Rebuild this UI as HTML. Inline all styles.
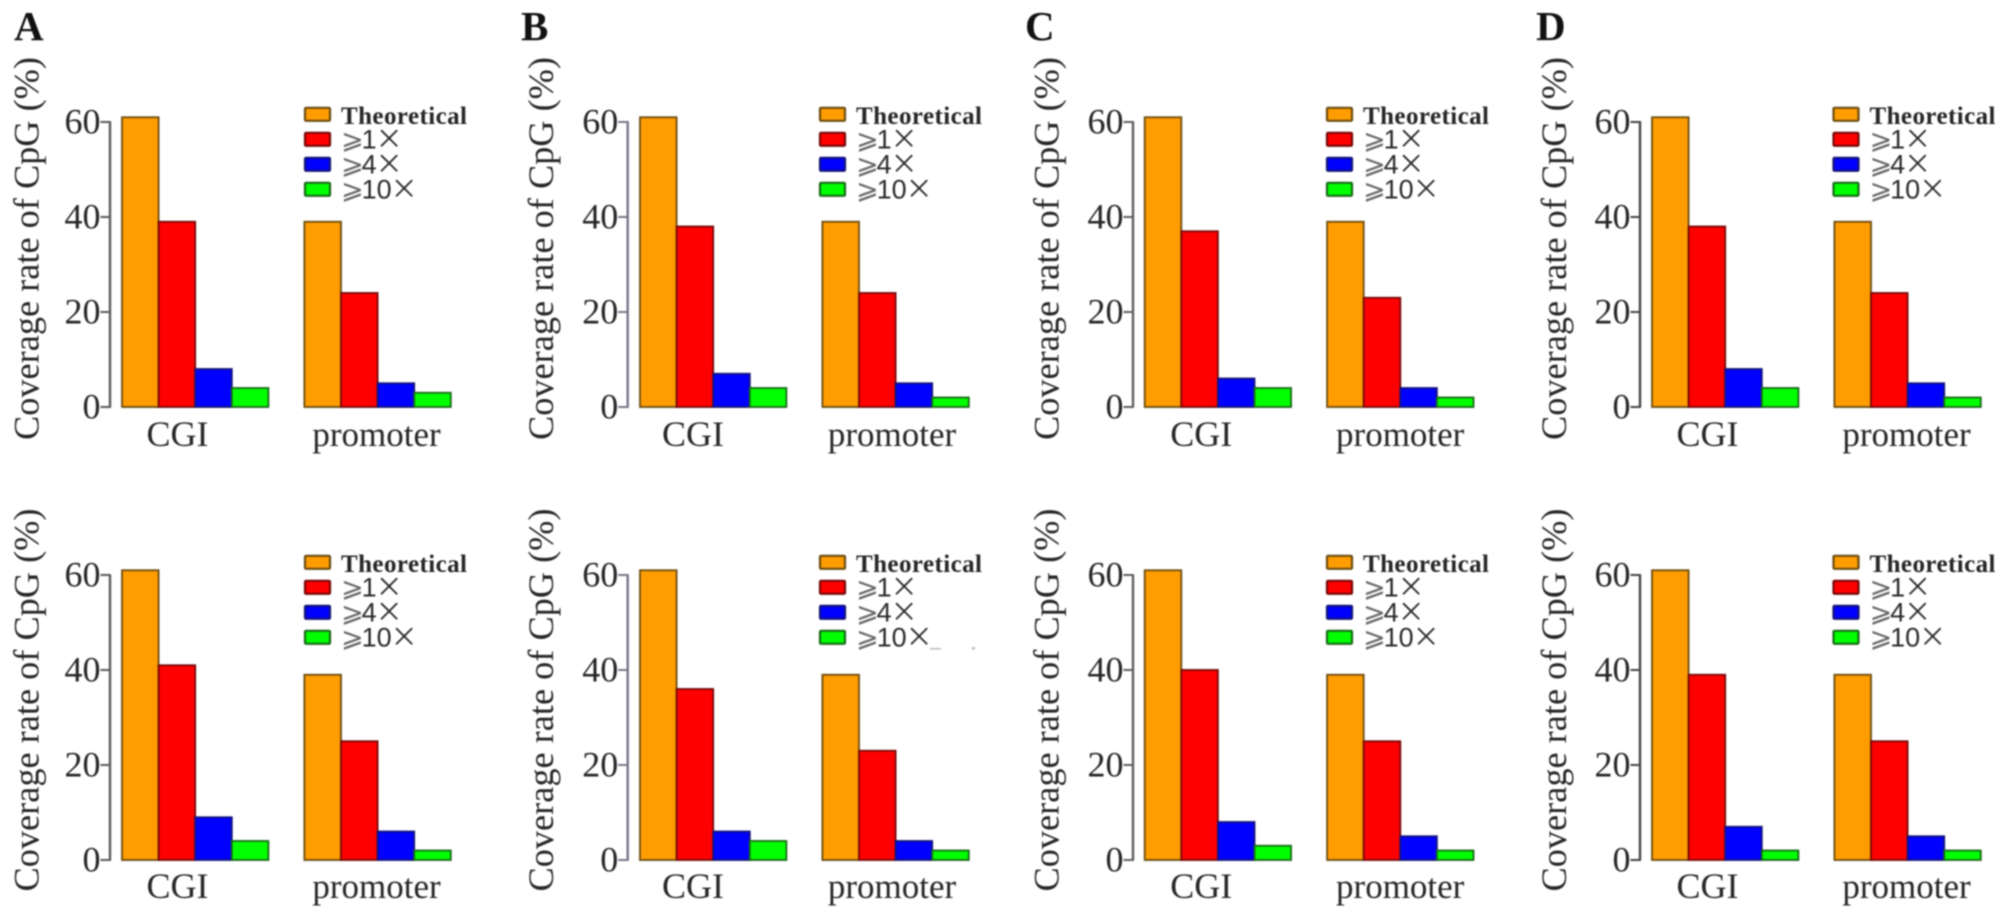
<!DOCTYPE html>
<html lang="en">
<head>
<meta charset="utf-8">
<title>Coverage rate of CpG panels</title>
<style>
html,body{margin:0;padding:0;background:#fff;width:2008px;height:918px;overflow:hidden}
svg{display:block;filter:blur(0.7px)}
text{font-family:"Liberation Serif","DejaVu Serif",serif;fill:#262626}
</style>
</head>
<body>
<svg id="figure" xmlns="http://www.w3.org/2000/svg" width="2008" height="918" viewBox="0 0 2008 918">
  <rect x="0" y="0" width="2008" height="918" fill="#fff"/>
  <text x="14" y="40" font-size="41" font-weight="bold" style="fill:#111">A</text>
  <text x="521" y="40" font-size="41" font-weight="bold" style="fill:#111">B</text>
  <text x="1025" y="40" font-size="41" font-weight="bold" style="fill:#111">C</text>
  <text x="1536" y="40" font-size="41" font-weight="bold" style="fill:#111">D</text>
  <rect x="930" y="648" width="11" height="1.5" fill="#bbb"/>
  <rect x="972" y="647" width="3" height="2.5" fill="#bbb"/>
</svg>
<script>
// ---- chart data ----
const categories = ['CGI', 'promoter'];
const seriesNames = ['Theoretical', '1', '4', '10'];
const tickValues = [0, 20, 40, 60];
const yAxisTitle = 'Coverage rate of CpG (%)';

const valuesTopA = [[61, 39, 8, 4], [39, 24, 5, 3]];
const valuesTopB = [[61, 38, 7, 4], [39, 24, 5, 2]];
const valuesTopC = [[61, 37, 6, 4], [39, 23, 4, 2]];
const valuesTopD = [[61, 38, 8, 4], [39, 24, 5, 2]];
const valuesBottomA = [[61, 41, 9, 4], [39, 25, 6, 2]];
const valuesBottomB = [[61, 36, 6, 4], [39, 23, 4, 2]];
const valuesBottomC = [[61, 40, 8, 3], [39, 25, 5, 2]];
const valuesBottomD = [[61, 39, 7, 2], [39, 25, 5, 2]];

// ---- layout (separate from data) ----
const NS = 'http://www.w3.org/2000/svg';
const svg = document.getElementById('figure');
const fills = ['#ff9c00', '#ff0000', '#0000ff', '#00ff00'];
const strokes = ['#6b4c10', '#760808', '#14147a', '#176a17'];
const PX_PER_UNIT = 4.75;
const BAR_W = 36.6;
const GROUP_STEP = 182.4;

const rows = [
  { id: 'top', zeroY: 407, titleY: 248.5, catY: 446, legendY: 114.3 },
  { id: 'bottom', zeroY: 860, titleY: 700, catY: 898, legendY: 562.3 }
];
const columns = [
  { id: 'a', axisX: 110, barX: 122, legendX: 305, titleX: 38.5, catShift: 0, axisColor: '#5a5a5a' },
  { id: 'b', axisX: 627.7, barX: 640, legendX: 820, titleX: 553, catShift: -2.5, axisColor: '#75758a' },
  { id: 'c', axisX: 1133, barX: 1144.7, legendX: 1327, titleX: 1058.5, catShift: 1, axisColor: '#5e5e5e' },
  { id: 'd', axisX: 1640, barX: 1652, legendX: 1833.5, titleX: 1566, catShift: 0, axisColor: '#454545' }
];
const panelValues = [
  [valuesTopA, valuesTopB, valuesTopC, valuesTopD],
  [valuesBottomA, valuesBottomB, valuesBottomC, valuesBottomD]
];

function make(tag, attrs, text) {
  const node = document.createElementNS(NS, tag);
  for (const key in attrs) node.setAttribute(key, attrs[key]);
  if (text !== undefined) node.textContent = text;
  return node;
}
function yScale(row, value) { return row.zeroY - value * PX_PER_UNIT; }
function xScale(col, groupIndex, seriesIndex) { return col.barX + groupIndex * GROUP_STEP + seriesIndex * BAR_W; }

function drawAxis(group, row, col) {
  const line = make('line', { x1: col.axisX, x2: col.axisX, y1: yScale(row, 60), y2: yScale(row, 0), stroke: col.axisColor, 'stroke-width': 2.4 });
  
  
  group.appendChild(line);
  tickValues.forEach(function (tick) {
    const y = yScale(row, tick);
    const mark = make('line', { x1: col.axisX - 9.5, x2: col.axisX + 1, y1: y, y2: y, stroke: col.axisColor, 'stroke-width': 2 });
    
    
    group.appendChild(mark);
    const label = make('text', { x: col.axisX - 9.5, y: y + 11.5, 'text-anchor': 'end', 'font-size': 36 }, String(tick));
    
    
    group.appendChild(label);
  });
  const title = make('text', {
    x: 0, y: 0, 'text-anchor': 'middle', 'font-size': 36.3,
    transform: 'translate(' + col.titleX + ',' + row.titleY + ') rotate(-90)'
  }, yAxisTitle);
  
  
  group.appendChild(title);
}

function drawBars(group, row, col, values) {
  values.forEach(function (groupValues, g) {
    groupValues.forEach(function (value, s) {
      const top = yScale(row, value);
      const bar = make('rect', {
        x: xScale(col, g, s), y: top, width: BAR_W, height: row.zeroY - top,
        fill: fills[s], stroke: strokes[s], 'stroke-width': 1.8
      });
      
      
      group.appendChild(bar);
    });
  });
}

function drawCategories(group, row, col) {
  const centers = [col.barX + 55.5 + col.catShift, col.barX + 254.5 + col.catShift];
  const sizes = [36, 35];
  categories.forEach(function (name, i) {
    const label = make('text', { x: centers[i], y: row.catY, 'text-anchor': 'middle', 'font-size': sizes[i] }, name);
    
    
    group.appendChild(label);
  });
}

function drawLegend(group, row, col) {
  seriesNames.forEach(function (name, i) {
    const cy = row.legendY + i * 25;
    const entry = make('g', {});
    
    
    const swatch = make('rect', { x: col.legendX, y: cy - 6.5, width: 25, height: 13, rx: 1, fill: fills[i], stroke: strokes[i], 'stroke-width': 2.2 });
    
    
    entry.appendChild(swatch);
    const tx = col.legendX + 36;
    if (i === 0) {
      const label = make('text', { x: tx, y: cy + 9.7, 'font-size': 25, 'font-weight': 'bold', textLength: 126, lengthAdjust: 'spacing' }, name);
      
      
      entry.appendChild(label);
    } else {
      const label = make('text', { x: tx, y: cy + 9.2, 'font-size': 27 });
      
      
      const geq = make('tspan', { style: 'font-family:"DejaVu Sans",sans-serif;fill:#666' }, '\u2A7E');
      const num = make('tspan', { dx: -2, style: 'font-family:"Liberation Sans",sans-serif;fill:#2a2a2a' }, name);
      const times = make('tspan', { dx: -1, style: 'font-family:"Noto Sans CJK SC",sans-serif;fill:#2a2a2a' }, '\u00D7');
      label.appendChild(geq);
      label.appendChild(num);
      label.appendChild(times);
      entry.appendChild(label);
    }
    group.appendChild(entry);
  });
}

rows.forEach(function (row, r) {
  columns.forEach(function (col, c) {
    const panel = make('g', {});
    
    
    svg.appendChild(panel);
    drawAxis(panel, row, col);
    drawBars(panel, row, col, panelValues[r][c]);
    drawCategories(panel, row, col);
    drawLegend(panel, row, col);
  });
});
</script>
</body>
</html>
